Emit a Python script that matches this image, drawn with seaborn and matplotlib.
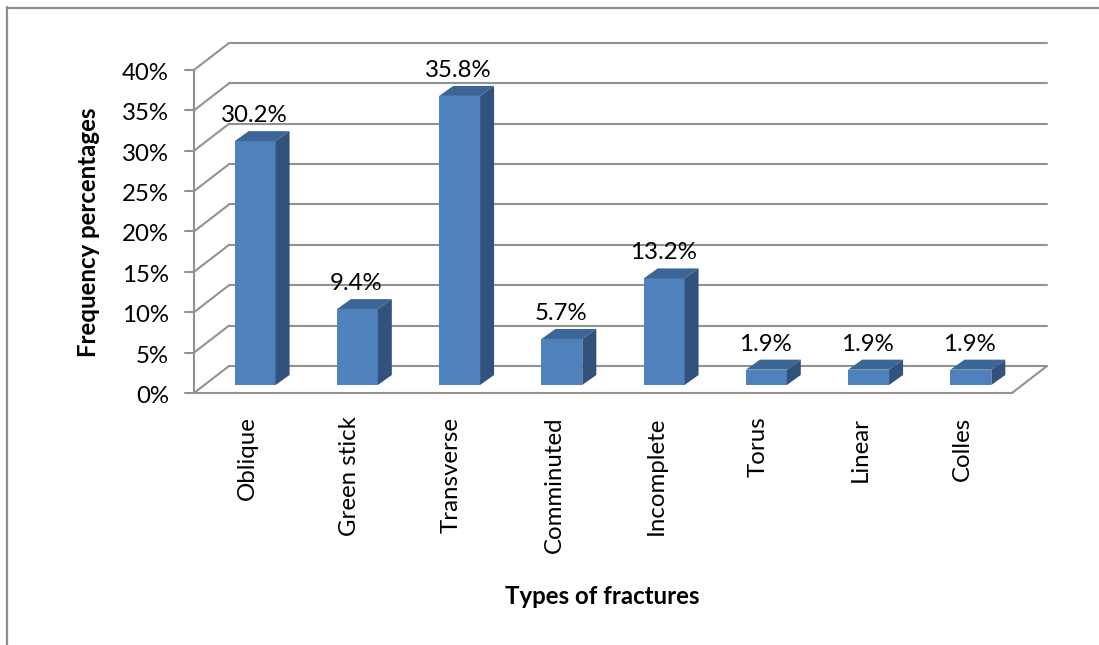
import matplotlib
matplotlib.use("Agg")
import matplotlib.pyplot as plt
import seaborn as sns
import pandas as pd
from matplotlib.patches import Polygon
from matplotlib.lines import Line2D
from matplotlib.transforms import Affine2D, IdentityTransform

categories = ["Oblique", "Green stick", "Transverse", "Comminuted", "Incomplete", "Torus", "Linear", "Colles"]
values = [30.2, 9.4, 35.8, 5.7, 13.2, 1.9, 1.9, 1.9]
value_labels = ["30.2%", "9.4%", "35.8%", "5.7%", "13.2%", "1.9%", "1.9%", "1.9%"]
y_ticks = [0, 5, 10, 15, 20, 25, 30, 35, 40]

W, H = 1099, 645
FS = 17.3
sns.set_theme(style="white")
plt.rcParams['font.family'] = ['Lato', 'DejaVu Sans']
fig = plt.figure(figsize=(W / 100, H / 100), dpi=100)
fig.patch.set_facecolor("white")
L, R, T, B = 194, 1012, 70, 393
ax = fig.add_axes([L / W, 1 - B / H, (R - L) / W, (B - T) / H])
ax.patch.set_alpha(0)
df = pd.DataFrame({"cat": categories, "val": values})
sns.barplot(data=df, x="cat", y="val", color="#4F81BD", saturation=1, width=0.4, ax=ax, zorder=5)
ax.set_xlim(-0.5, 7.5)
ax.set_ylim(0, 40)
for s in ax.spines.values():
    s.set_visible(False)
ax.set_xlabel("")
ax.set_ylabel("")

GRID = "#929292"
WALL_DX, WALL_DY = 35, 27
BAR_DX, BAR_DY = 10, 8
DEPTH_X, DEPTH_Y = 14, 10

def px(x, y):
    return x, H - y

def line(x0, y0, x1, y1, color=GRID, lw=1.5, z=1):
    a, b = px(x0, y0), px(x1, y1)
    fig.add_artist(Line2D([a[0], b[0]], [a[1], b[1]], transform=IdentityTransform(), color=color, lw=lw, zorder=z))

# wall gridlines, positioned through the axes' own y scale
for t in y_ticks:
    yd = ax.transData.transform((0, t))[1]
    yf = H - yd
    line(L, yf, L + WALL_DX, yf - WALL_DY)
    line(L + WALL_DX, yf - WALL_DY, 1047, yf - WALL_DY)
    line(L - 9, yf, L, yf)
line(L, T, L, B)
line(L, B, R, B)
line(R, B, 1047, B - WALL_DY)

# outer picture frame
line(7, 7.5, 1099, 7.5, color="#8c8c8c", lw=1.6)
line(7, 7, 7, 645, color="#8c8c8c", lw=1.6)

# 3D bars
shift = Affine2D().translate(BAR_DX, BAR_DY)
for p, lab in zip(ax.patches, value_labels):
    x0, x1 = p.get_x(), p.get_x() + p.get_width()
    top = p.get_height()
    p.set_transform(ax.transData + shift)
    p.set_edgecolor("none")
    (ax0, ay0) = (ax.transData + shift).transform((x0, 0))
    (ax1, ay1) = (ax.transData + shift).transform((x1, top))
    top_poly = [(ax0, ay1), (ax1, ay1), (ax1 + DEPTH_X, ay1 + DEPTH_Y), (ax0 + DEPTH_X, ay1 + DEPTH_Y)]
    side_poly = [(ax1, ay0), (ax1 + DEPTH_X, ay0 + DEPTH_Y), (ax1 + DEPTH_X, ay1 + DEPTH_Y), (ax1, ay1)]
    fig.add_artist(Polygon(top_poly, closed=True, transform=IdentityTransform(), fc="#3C6696", ec="none", zorder=6))
    fig.add_artist(Polygon(side_poly, closed=True, transform=IdentityTransform(), fc="#31527C", ec="none", zorder=6))
    fig.text((ax0 + ax1) / 2 - 1, ay1 + 15, lab, transform=IdentityTransform(), ha="center", va="bottom", fontsize=FS, color="black", zorder=8)

ax.set_zorder(5)
ax.set_yticks(y_ticks)
ax.set_yticklabels([f"{t}%" for t in y_ticks], fontsize=FS, color="black")
ax.tick_params(axis="y", length=0, pad=18)
ax.set_xticks(range(len(categories)))
ax.set_xticklabels(categories, rotation=90, fontsize=FS, color="black")
ax.tick_params(axis="x", length=0, pad=17)
for lbl in ax.get_yticklabels():
    lbl.set_transform(lbl.get_transform() + Affine2D().translate(0, -1.5))
for lbl in ax.get_xticklabels():
    lbl.set_transform(lbl.get_transform() + Affine2D().translate(2, 0))

fig.text(89 / W, 1 - 232 / H, "Frequency percentages", rotation=90, ha="center", va="center", fontsize=FS, fontweight="bold", color="black")
fig.text(602 / W, 1 - 596 / H, "Types of fractures", ha="center", va="center", fontsize=FS, fontweight="bold", color="black")

fig.savefig("out.png", dpi=100)
